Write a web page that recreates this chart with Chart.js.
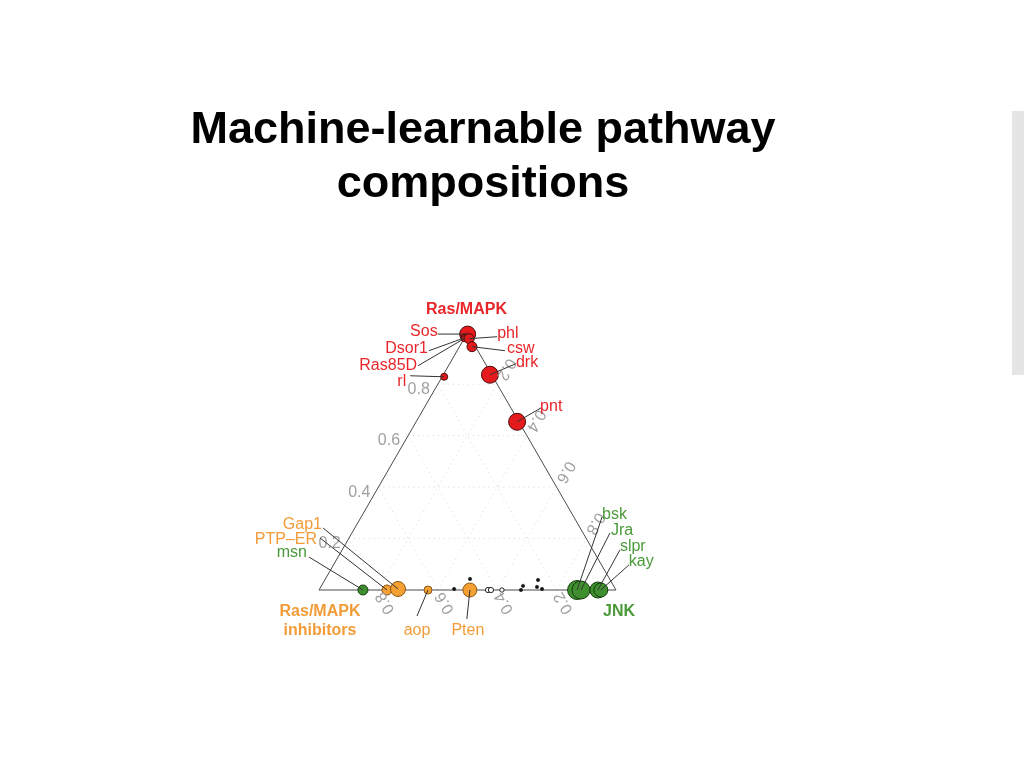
<!DOCTYPE html>
<html>
<head>
<meta charset="utf-8">
<script src="https://cdn.jsdelivr.net/npm/chart.js@4/dist/chart.umd.min.js"></script>
<style>
  html, body { margin: 0; padding: 0; background: #ffffff; }
  #wrap { position: relative; width: 1024px; height: 768px; overflow: hidden; }
  #title {
    position: absolute; left: 0; top: 101px; width: 966px; text-align: center;
    font-family: "Liberation Sans", Arial, sans-serif; font-weight: bold;
    font-size: 45px; line-height: 54px; color: #000;
  }
  #sidebar { position: absolute; left: 1012px; top: 111px; width: 12px; height: 264px; background: #e5e5e5; }
  canvas { position: absolute; left: 0; top: 0; }
</style>
</head>
<body>
<div id="wrap">
  <canvas id="c" width="1024" height="768"></canvas>
  <div id="title">Machine-learnable pathway<br>compositions</div>
  <div id="sidebar"></div>
</div>
<script>
// ---------------- DATA ----------------
// Ternary composition: rasShare (top vertex, Ras/MAPK), jnkShare (right vertex, JNK);
// the remainder is the Ras/MAPK-inhibitor share (left vertex).
const cornerLabels = ['Ras/MAPK', 'Ras/MAPK\ninhibitors', 'JNK'];
const tickValues = [0.2, 0.4, 0.6, 0.8];
const tickLabels = ['0.2', '0.4', '0.6', '0.8'];

const rasGenes    = ['Sos', 'Dsor1', 'Ras85D', 'phl', 'csw', 'drk', 'pnt', 'rl'];
const rasRasShare = [0.995, 0.981, 0.977, 0.977, 0.946, 0.837, 0.654, 0.829];
const rasJnkShare = [0.003, 0.001, 0.000, 0.017, 0.042, 0.157, 0.340, 0.007];
const rasWeight   = [8, 4, 3, 5, 5, 8.5, 8.5, 3.5];

const inhGenes    = ['PTP\u2013ER', 'Gap1', 'aop', 'Pten'];
const inhRasShare = [0.000, 0.004, 0.000, 0.000];
const inhJnkShare = [0.229, 0.264, 0.367, 0.508];
const inhWeight   = [5, 7.5, 4, 7];

const jnkGenes    = ['msn', 'bsk', 'Jra', 'slpr', 'kay'];
const jnkRasShare = [0.000, 0.000, 0.000, 0.000, 0.000];
const jnkJnkShare = [0.148, 0.869, 0.882, 0.939, 0.949];
const jnkWeight   = [5, 9.5, 9, 8, 7];

const otherRasShare = [0.004, 0.043, 0.000, 0.016, 0.039, 0.012, 0.004];
const otherJnkShare = [0.453, 0.487, 0.680, 0.679, 0.718, 0.728, 0.749];
const otherWeight   = [1.7, 1.7, 1.7, 1.7, 1.7, 1.7, 1.7];

const openRasShare = [0.000, 0.000, 0.000];
const openJnkShare = [0.569, 0.579, 0.616];
const openWeight   = [2.6, 2.6, 2.2];

// ---------------- STYLE / LAYOUT ----------------
const COL = {
  redFill: '#e41a1c', redEdge: '#4a0a0a', redText: '#e8262a',
  orFill: '#f5a033', orEdge: '#8a5510', orText: '#f29c38',
  grFill: '#3f8f2f', grEdge: '#163d10', grText: '#4a9a3a',
  tick: '#a0a0a0', axis: '#4a4a4a', grid: '#d6d6d6'
};
const FONT = '"Liberation Sans", Arial, sans-serif';
const H = Math.sqrt(3) / 2;
const TY = 2; // vertical nudge for canvas text

// label offsets (px) relative to the point: text anchor and leader-line start
const labelLayout = {
  'Sos':    { tx: -30, ty: -4,  al: 'right', lx: -30, ly: 0 },
  'Dsor1':  { tx: -37, ty: 9,   al: 'right', lx: -36, ly: 13 },
  'Ras85D': { tx: -47, ty: 25,  al: 'right', lx: -46, ly: 27 },
  'rl':     { tx: -38, ty: 3,   al: 'right', lx: -34, ly: -1 },
  'phl':    { tx: 28,  ty: -7,  al: 'left',  lx: 28,  ly: -2 },
  'csw':    { tx: 35,  ty: 0,   al: 'left',  lx: 33,  ly: 4 },
  'drk':    { tx: 26,  ty: -14, al: 'left',  lx: 26,  ly: -11 },
  'pnt':    { tx: 23,  ty: -17, al: 'left',  lx: 24,  ly: -14 },
  'Gap1':   { tx: -76, ty: -66, al: 'right', lx: -75, ly: -61 },
  'PTP\u2013ER': { tx: -70, ty: -52, al: 'right', lx: -67, ly: -52 },
  'msn':    { tx: -56, ty: -39, al: 'right', lx: -54, ly: -33 },
  'aop':    { tx: -11, ty: 39,  al: 'center', lx: -11, ly: 26 },
  'Pten':   { tx: -2,  ty: 39,  al: 'center', lx: -3,  ly: 29 },
  'bsk':    { tx: 25,  ty: -77, al: 'left',  lx: 25,  ly: -73 },
  'Jra':    { tx: 30,  ty: -61, al: 'left',  lx: 29,  ly: -57 },
  'slpr':   { tx: 22,  ty: -45, al: 'left',  lx: 22,  ly: -40 },
  'kay':    { tx: 28,  ty: -30, al: 'left',  lx: 28,  ly: -25 }
};

// ternary -> cartesian (unit-side equilateral triangle)
function tern(ras, jnk) { return { x: jnk + ras / 2, y: ras * H }; }
function pts(rasArr, jnkArr) { return rasArr.map((r, i) => tern(r, jnkArr[i])); }

// ---------------- DATASETS ----------------
const datasets = [];
datasets.push({
  data: [tern(0, 0), tern(0, 1), tern(1, 0), tern(0, 0)],
  showLine: true, pointRadius: 0, borderColor: COL.axis, borderWidth: 1, order: 20, fill: false
});
tickValues.forEach(v => {
  const segs = [
    [tern(v, 0), tern(v, 1 - v)],
    [tern(0, v), tern(1 - v, v)],
    [tern(0, 1 - v), tern(1 - v, 0)]
  ];
  segs.forEach(s => datasets.push({
    data: s, showLine: true, pointRadius: 0, borderColor: COL.grid,
    borderWidth: 1, borderDash: [1, 4], order: 30, fill: false
  }));
});
datasets.push({ data: pts(otherRasShare, otherJnkShare), pointRadius: otherWeight,
  backgroundColor: '#111', borderColor: '#111', borderWidth: 0.5, order: 5 });
datasets.push({ data: pts(openRasShare, openJnkShare), pointRadius: openWeight,
  backgroundColor: '#ffffff', borderColor: '#222', borderWidth: 1, order: 5 });
datasets.push({ data: pts(inhRasShare, inhJnkShare), pointRadius: inhWeight,
  backgroundColor: COL.orFill, borderColor: COL.orEdge, borderWidth: 1, order: 3 });
datasets.push({ data: pts(jnkRasShare, jnkJnkShare), pointRadius: jnkWeight,
  backgroundColor: COL.grFill, borderColor: COL.grEdge, borderWidth: 1, order: 2 });
datasets.push({ data: pts(rasRasShare, rasJnkShare), pointRadius: rasWeight,
  backgroundColor: COL.redFill, borderColor: COL.redEdge, borderWidth: 1, order: 1 });

// ---------------- ANNOTATION PLUGIN ----------------
const ternaryText = {
  id: 'ternaryText',
  afterDatasetsDraw(chart) {
    const ctx = chart.ctx, sx = chart.scales.x, sy = chart.scales.y;
    const P = (p) => ({ x: sx.getPixelForValue(p.x), y: sy.getPixelForValue(p.y) });
    ctx.save();
    ctx.textBaseline = 'middle';

    ctx.fillStyle = COL.tick;
    ctx.font = '16px ' + FONT;
    tickValues.forEach((v, i) => {
      let a = P(tern(v, 0));
      ctx.textAlign = 'right';
      ctx.fillText(tickLabels[i], a.x - 8, a.y + 3 + TY);
      a = P(tern(1 - v, v));
      ctx.save(); ctx.translate(a.x + 9, a.y - 15); ctx.rotate(2 * Math.PI / 3);
      ctx.textAlign = 'center'; ctx.fillText(tickLabels[i], 0, 0); ctx.restore();
      a = P(tern(0, 1 - v));
      ctx.save(); ctx.translate(a.x + 7, a.y + 13); ctx.rotate(-2 * Math.PI / 3);
      ctx.textAlign = 'center'; ctx.fillText(tickLabels[i], 0, 0); ctx.restore();
    });

    const groups = [
      [rasGenes, rasRasShare, rasJnkShare, COL.redText],
      [inhGenes, inhRasShare, inhJnkShare, COL.orText],
      [jnkGenes, jnkRasShare, jnkJnkShare, COL.grText]
    ];
    groups.forEach(([names, ras, jnk, col]) => {
      names.forEach((n, i) => {
        const L = labelLayout[n]; if (!L) return;
        const p = P(tern(ras[i], jnk[i]));
        ctx.strokeStyle = '#333'; ctx.lineWidth = 1;
        ctx.beginPath(); ctx.moveTo(p.x + L.lx, p.y + L.ly); ctx.lineTo(p.x, p.y); ctx.stroke();
        ctx.fillStyle = col; ctx.font = '16px ' + FONT; ctx.textAlign = L.al;
        ctx.fillText(n, p.x + L.tx, p.y + L.ty + TY);
      });
    });

    ctx.font = 'bold 16px ' + FONT; ctx.textAlign = 'center';
    let c = P(tern(1, 0));
    ctx.fillStyle = COL.redText; ctx.fillText(cornerLabels[0], c.x - 1, c.y - 25 + TY);
    c = P(tern(0, 0));
    ctx.fillStyle = COL.orText;
    cornerLabels[1].split('\n').forEach((s, k) => ctx.fillText(s, c.x + 1, c.y + 20 + TY + k * 19));
    c = P(tern(0, 1));
    ctx.fillStyle = COL.grText; ctx.fillText(cornerLabels[2], c.x + 3, c.y + 20 + TY);
    ctx.restore();
  }
};

// ---------------- CHART ----------------
const PXU = 297, X0 = 319, Y0 = 590, W = 1024, HH = 768;
new Chart(document.getElementById('c'), {
  type: 'scatter',
  data: { datasets },
  options: {
    responsive: false, animation: false, devicePixelRatio: 1,
    layout: { padding: 0, autoPadding: false },
    plugins: { legend: { display: false }, tooltip: { enabled: false }, title: { display: false } },
    scales: {
      x: { type: 'linear', display: false, min: -X0 / PXU, max: (W - X0) / PXU },
      y: { type: 'linear', display: false, min: -(HH - Y0) / PXU, max: Y0 / PXU }
    }
  },
  plugins: [ternaryText]
});
</script>
</body>
</html>
